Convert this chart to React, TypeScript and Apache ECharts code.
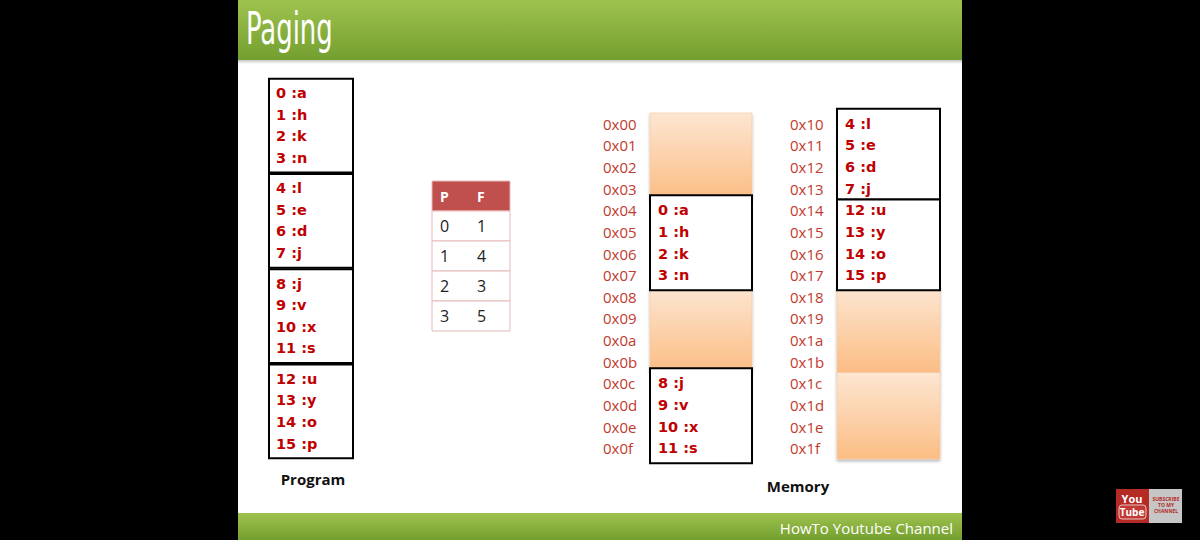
import { useEffect, useRef } from "react";
import * as echarts from "echarts";

// program pages: 4 bytes each
const PROGRAM = ["a", "h", "k", "n", "l", "e", "d", "j", "j", "v", "x", "s", "u", "y", "o", "p"];
const PAGE_SIZE = 4;
const PAGE_NUMBERS = ["0", "1", "2", "3"];
// page table: page -> frame
const TABLE_HEADER = ["P", "F"];
const PAGE_FRAMES = [1, 4, 3, 5];
// memory addresses (two columns)
const ADDR_LOW = ["0x00", "0x01", "0x02", "0x03", "0x04", "0x05", "0x06", "0x07", "0x08", "0x09", "0x0a", "0x0b", "0x0c", "0x0d", "0x0e", "0x0f"];
const ADDR_HIGH = ["0x10", "0x11", "0x12", "0x13", "0x14", "0x15", "0x16", "0x17", "0x18", "0x19", "0x1a", "0x1b", "0x1c", "0x1d", "0x1e", "0x1f"];

const RED = "#c00000";
const ADDR_RED = "#bf3a2e";
const HEAD = "#c0504d";
const CELL_LINE = "#e6b9b8";
const ENTRY_FONT = "'DejaVu Sans', sans-serif";
const BODY_FONT = "'Open Sans', sans-serif";

const entry = (i: number) => `${i} :${PROGRAM[i]}`;
const isUsed = (frame: number) => PAGE_FRAMES.indexOf(frame) >= 0;

const freeFill = () =>
  new echarts.graphic.LinearGradient(0, 0, 0, 1, [
    { offset: 0, color: "#fde6d2" },
    { offset: 1, color: "#fbbd84" },
  ]);

const greenBar = () =>
  new echarts.graphic.LinearGradient(0, 0, 0, 1, [
    { offset: 0, color: "#9fc24e" },
    { offset: 1, color: "#739f2f" },
  ]);

function entryText(x: number, y: number, text: string) {
  return {
    type: "text",
    x,
    y,
    style: { text, fill: RED, fontSize: 14.5, fontWeight: "bold", fontFamily: ENTRY_FONT, align: "left", verticalAlign: "middle" },
  };
}

// program page box + its 4 entries
function renderPage(params: any, api: any) {
  const cs = params.coordSys;
  const p = api.value(0);
  const cy = api.coord([0, p])[1];
  const band = api.size([0, 1])[1];
  const top = cy - band / 2;
  const kids: any[] = [
    {
      type: "rect",
      shape: { x: cs.x, y: top + 0.8, width: cs.width, height: band - 1.6 },
      style: { fill: "#fff", stroke: "#000", lineWidth: 2 },
    },
  ];
  for (let k = 0; k < PAGE_SIZE; k++) {
    kids.push(entryText(cs.x + 7, top + 15 + k * 21.6, entry(p * PAGE_SIZE + k)));
  }
  return { type: "group", children: kids };
}

// memory frame: [first row in column, page or -1, column]
function renderFrame(params: any, api: any) {
  const cs = params.coordSys;
  const r = api.value(0);
  const page = api.value(1);
  const col = api.value(2);
  const band = api.size([0, 1])[1];
  const y0 = api.coord([0, r])[1];
  const y3 = api.coord([0, r + 3])[1];
  const cy = (y0 + y3) / 2;
  if (page < 0) {
    const h = band * 4;
    return {
      type: "rect",
      shape: { x: cs.x, y: cy - h / 2, width: cs.width, height: h },
      style: { fill: freeFill(), stroke: "#f6c79e", lineWidth: 0.6, shadowBlur: 3, shadowOffsetY: 2, shadowColor: "rgba(0,0,0,0.3)" },
    };
  }
  const frame = col * 4 + r / PAGE_SIZE;
  const slot = r / PAGE_SIZE;
  const half = band * 2;
  // used frames are drawn a little taller, except where they meet another used frame
  const top = slot > 0 && isUsed(frame - 1) ? cy - half : cy - half * 1.1;
  const bottom = slot < 3 && isUsed(frame + 1) ? cy + half : cy + half * 1.1;
  const kids: any[] = [
    {
      type: "rect",
      shape: { x: cs.x, y: top, width: cs.width, height: bottom - top },
      style: { fill: "#fff", stroke: "#000", lineWidth: 2 },
    },
  ];
  for (let k = 0; k < PAGE_SIZE; k++) {
    const y = api.coord([0, r + k])[1];
    kids.push(entryText(cs.x + 8, y, entry(page * PAGE_SIZE + k)));
  }
  return { type: "group", children: kids };
}

// page table row: [row, p, f] (row 0 = header)
function renderTableRow(params: any, api: any) {
  const cs = params.coordSys;
  const row = api.value(0);
  const cy = api.coord([0, row])[1];
  const band = api.size([0, 1])[1];
  const header = row === 0;
  const cells = header ? TABLE_HEADER : [String(api.value(1)), String(api.value(2))];
  const txt = (x: number, t: string) => ({
    type: "text",
    x,
    y: cy,
    style: {
      text: t,
      fill: header ? "#fff" : "#222",
      fontSize: header ? 14 : 16,
      fontWeight: header ? "bold" : "normal",
      fontFamily: BODY_FONT,
      align: "left",
      verticalAlign: "middle",
    },
  });
  return {
    type: "group",
    children: [
      {
        type: "rect",
        shape: { x: cs.x, y: cy - band / 2, width: cs.width, height: band },
        style: { fill: header ? HEAD : "#fff", stroke: CELL_LINE, lineWidth: 1 },
      },
      txt(cs.x + 8, cells[0]),
      txt(cs.x + 45, cells[1]),
    ],
  };
}

function memoryData(col: number, used: boolean) {
  const out: number[][] = [];
  for (let i = 0; i < 4; i++) {
    const frame = col * 4 + i;
    const page = PAGE_FRAMES.indexOf(frame);
    if ((page >= 0) === used) out.push([i * PAGE_SIZE, page, col]);
  }
  return out;
}

function buildOption() {
  const hidden = { show: false };
  const addrAxis = (data: string[], gridIndex: number) => ({
    type: "category",
    gridIndex,
    data,
    inverse: true,
    axisLine: hidden,
    axisTick: hidden,
    axisLabel: { color: ADDR_RED, fontSize: 15, fontFamily: BODY_FONT, align: "left", margin: 47 },
  });
  const xVal = (gridIndex: number) => ({ type: "value", gridIndex, min: 0, max: 1, show: false });

  const tableRows = [[0, -1, -1], ...PAGE_FRAMES.map((f, p) => [p + 1, p, f])];

  return {
    animation: false,
    backgroundColor: "#000",
    grid: [
      { left: 269, top: 78, width: 84, height: 381 },
      { left: 432, top: 181, width: 78, height: 150 },
      { left: 650, top: 113, width: 102, height: 346 },
      { left: 837, top: 113, width: 103, height: 346 },
    ],
    xAxis: [xVal(0), xVal(1), xVal(2), xVal(3)],
    yAxis: [
      { type: "category", gridIndex: 0, data: PAGE_NUMBERS, inverse: true, show: false },
      { type: "category", gridIndex: 1, data: ["head", ...PAGE_NUMBERS], inverse: true, show: false },
      addrAxis(ADDR_LOW, 2),
      addrAxis(ADDR_HIGH, 3),
    ],
    series: [
      { type: "custom", xAxisIndex: 0, yAxisIndex: 0, renderItem: renderPage, data: PAGE_NUMBERS.map((_, i) => [i]), z: 3 },
      { type: "custom", xAxisIndex: 1, yAxisIndex: 1, renderItem: renderTableRow, data: tableRows, z: 3 },
      { type: "custom", xAxisIndex: 2, yAxisIndex: 2, renderItem: renderFrame, data: memoryData(0, false), z: 2 },
      { type: "custom", xAxisIndex: 2, yAxisIndex: 2, renderItem: renderFrame, data: memoryData(0, true), z: 3 },
      { type: "custom", xAxisIndex: 3, yAxisIndex: 3, renderItem: renderFrame, data: memoryData(1, false), z: 2 },
      { type: "custom", xAxisIndex: 3, yAxisIndex: 3, renderItem: renderFrame, data: memoryData(1, true), z: 3 },
    ],
    graphic: [
      // slide
      { type: "rect", shape: { x: 238, y: 0, width: 724, height: 540 }, style: { fill: "#fff" }, z: -10 },
      { type: "rect", shape: { x: 238, y: 0, width: 724, height: 60 }, style: { fill: greenBar() }, z: -9 },
      {
        type: "rect",
        shape: { x: 238, y: 60, width: 724, height: 4 },
        style: { fill: new echarts.graphic.LinearGradient(0, 0, 0, 1, [{ offset: 0, color: "rgba(0,0,0,0.22)" }, { offset: 1, color: "rgba(0,0,0,0)" }]) },
        z: -9,
      },
      {
        type: "text",
        x: 246,
        y: 51,
        scaleX: 0.64,
        style: { text: "Paging", fill: "#fff", fontSize: 45, fontFamily: "'Liberation Sans Narrow', 'DejaVu Sans Condensed', sans-serif", align: "left", verticalAlign: "bottom" },
        z: -8,
      },
      { type: "rect", shape: { x: 238, y: 513, width: 724, height: 27 }, style: { fill: greenBar() }, z: -9 },
      {
        type: "text",
        x: 953,
        y: 528,
        style: { text: "HowTo Youtube Channel", fill: "#fff", fontSize: 15, fontFamily: BODY_FONT, align: "right", verticalAlign: "middle" },
        z: -8,
      },
      // captions
      {
        type: "text",
        x: 313,
        y: 479,
        style: { text: "Program", fill: "#111", fontSize: 15, fontWeight: "bold", fontFamily: BODY_FONT, align: "center", verticalAlign: "middle" },
      },
      {
        type: "text",
        x: 798,
        y: 486,
        style: { text: "Memory", fill: "#111", fontSize: 15, fontWeight: "bold", fontFamily: BODY_FONT, align: "center", verticalAlign: "middle" },
      },
      // subscribe badge
      { type: "rect", shape: { x: 1116, y: 489, width: 33, height: 34 }, style: { fill: "#b52a25" } },
      { type: "rect", shape: { x: 1149, y: 489, width: 33, height: 34 }, style: { fill: "#c6c6c6" } },
      {
        type: "text",
        x: 1132,
        y: 498,
        style: { text: "You", fill: "#fff", fontSize: 11, fontWeight: "bold", fontFamily: BODY_FONT, align: "center", verticalAlign: "middle" },
      },
      { type: "rect", shape: { x: 1119, y: 505, width: 27, height: 14, r: 3 }, style: { fill: "#c33a34", stroke: "#e8c4c2", lineWidth: 1 } },
      {
        type: "text",
        x: 1132,
        y: 512,
        style: { text: "Tube", fill: "#fff", fontSize: 10, fontWeight: "bold", fontFamily: BODY_FONT, align: "center", verticalAlign: "middle" },
      },
      ...["SUBSCRIBE", "TO MY", "CHANNEL"].map((t, i) => ({
        type: "text",
        x: 1166,
        y: 499 + i * 6,
        style: { text: t, fill: "#b52a25", fontSize: 5, fontWeight: "bold", fontFamily: BODY_FONT, align: "center", verticalAlign: "middle" },
      })),
    ],
  };
}

export default function App() {
  const ref = useRef<HTMLDivElement>(null);

  useEffect(() => {
    if (!ref.current) return;
    const chart = echarts.init(ref.current, null, { renderer: "svg" });
    chart.setOption(buildOption() as any);
    return () => chart.dispose();
  }, []);

  return <div ref={ref} style={{ position: "fixed", left: 0, top: 0, width: 1200, height: 540, background: "#000" }} />;
}
